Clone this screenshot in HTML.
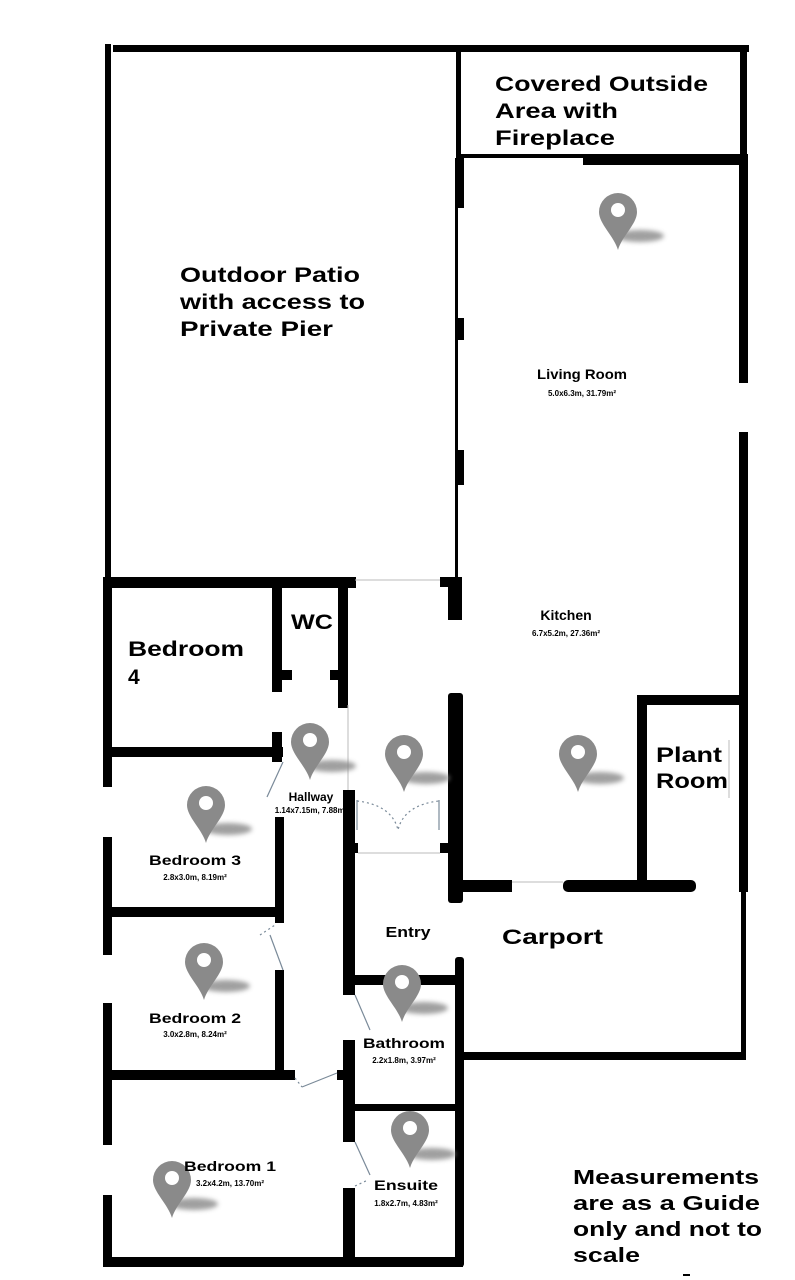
<!DOCTYPE html>
<html><head><meta charset="utf-8"><style>
html,body{margin:0;padding:0;background:#fff;}
svg{display:block;}
text{font-family:"Liberation Sans",Arial,sans-serif;font-weight:bold;fill:#000;}
</style></head><body>
<svg width="795" height="1280" viewBox="0 0 795 1280" xmlns="http://www.w3.org/2000/svg">
<defs>
<filter id="bl" x="-50%" y="-100%" width="200%" height="300%"><feGaussianBlur stdDeviation="2.5"/></filter>
<g id="pin">
<ellipse cx="22" cy="-14" rx="24" ry="6" fill="#888" opacity="0.8" filter="url(#bl)"/>
<path d="M0,0 C-4,-14 -19,-26 -19,-38 A19,19 0 1 1 19,-38 C19,-26 4,-14 0,0 Z" fill="#8a8a8a"/>
<circle cx="0" cy="-40" r="7" fill="#fff"/>
</g>
</defs>
<g fill="#000">
<rect x="113" y="45" width="636" height="7"/>
<rect x="105" y="44" width="6" height="540"/>
<rect x="456" y="47" width="5" height="112"/>
<rect x="740" y="47" width="7" height="112"/>
<rect x="461" y="154" width="287" height="4"/>
<rect x="583" y="154" width="165" height="11"/>
<rect x="455" y="158" width="9" height="50"/>
<rect x="455" y="208" width="3" height="112"/>
<rect x="455" y="318" width="9" height="22"/>
<rect x="455" y="340" width="3" height="110"/>
<rect x="455" y="450" width="9" height="35"/>
<rect x="455" y="485" width="3" height="95"/>
<rect x="440" y="577" width="22" height="10"/>
<rect x="448" y="580" width="14" height="40"/>
<rect x="739" y="158" width="9" height="225"/>
<rect x="739" y="432" width="9" height="460"/>
<rect x="741" y="888" width="5" height="172"/>
<rect x="448" y="693" width="15" height="210" rx="3"/>
<rect x="463" y="880" width="49" height="12"/>
<rect x="563" y="880" width="133" height="12" rx="5"/>
<rect x="637" y="695" width="10" height="197"/>
<rect x="637" y="695" width="111" height="10"/>
<rect x="440" y="843" width="10" height="10"/>
<rect x="455" y="957" width="9" height="310" rx="3"/>
<rect x="463" y="1052" width="283" height="8"/>
<rect x="103" y="577" width="253" height="11"/>
<rect x="103" y="577" width="9" height="210"/>
<rect x="103" y="837" width="9" height="118"/>
<rect x="103" y="1003" width="9" height="142"/>
<rect x="103" y="1195" width="9" height="72"/>
<rect x="103" y="747" width="180" height="10"/>
<rect x="272" y="588" width="10" height="104"/>
<rect x="282" y="670" width="10" height="10"/>
<rect x="272" y="732" width="10" height="30"/>
<rect x="338" y="588" width="10" height="120"/>
<rect x="330" y="670" width="8" height="10"/>
<rect x="275" y="817" width="9" height="100"/>
<rect x="103" y="907" width="180" height="10"/>
<rect x="275" y="907" width="9" height="16"/>
<rect x="275" y="970" width="9" height="110"/>
<rect x="103" y="1070" width="192" height="10"/>
<rect x="343" y="790" width="12" height="205"/>
<rect x="355" y="843" width="3" height="10"/>
<rect x="343" y="1040" width="12" height="102"/>
<rect x="337" y="1070" width="8" height="10"/>
<rect x="343" y="1188" width="12" height="79"/>
<rect x="353" y="975" width="110" height="10"/>
<rect x="353" y="1104" width="110" height="7"/>
<rect x="103" y="1257" width="360" height="10"/>
<rect x="683" y="1274" width="7" height="2"/>
</g>
<g stroke="#bbb" stroke-width="1" fill="none">
<line x1="348" y1="705" x2="348" y2="790"/>
<line x1="358" y1="853" x2="440" y2="853"/>
<line x1="355" y1="580" x2="440" y2="580"/>
<line x1="512" y1="882" x2="563" y2="882"/>
<line x1="729" y1="740" x2="729" y2="798"/>
</g>
<g stroke="#7a8a99" stroke-width="1.2" fill="none">
<line x1="357" y1="800" x2="357" y2="830"/>
<line x1="439" y1="800" x2="439" y2="830"/>
<path d="M357,801 Q392,805 398,830 Q404,805 439,801" stroke-dasharray="2,3"/>
<line x1="283" y1="762" x2="267" y2="797"/>
<line x1="270" y1="935" x2="283" y2="970"/>
<line x1="260" y1="935" x2="275" y2="925" stroke-dasharray="2,3"/>
<line x1="295" y1="1078" x2="302" y2="1087" stroke-dasharray="2,3"/>
<line x1="302" y1="1087" x2="337" y2="1073"/>
<line x1="355" y1="995" x2="370" y2="1030"/>
<line x1="355" y1="1142" x2="370" y2="1175"/>
<line x1="355" y1="1186" x2="368" y2="1180" stroke-dasharray="2,3"/>
</g>
<use href="#pin" x="618" y="250"/>
<use href="#pin" x="578" y="792"/>
<use href="#pin" x="404" y="792"/>
<use href="#pin" x="310" y="780"/>
<use href="#pin" x="206" y="843"/>
<use href="#pin" x="204" y="1000"/>
<use href="#pin" x="402" y="1022"/>
<use href="#pin" x="410" y="1168"/>
<use href="#pin" x="172" y="1218"/>
<g font-size="21" lengthAdjust="spacingAndGlyphs">
<text x="495" y="91" textLength="213" lengthAdjust="spacingAndGlyphs">Covered Outside</text>
<text x="495" y="118" textLength="123" lengthAdjust="spacingAndGlyphs">Area with</text>
<text x="495" y="145" textLength="120" lengthAdjust="spacingAndGlyphs">Fireplace</text>
<text x="180" y="282" textLength="180" lengthAdjust="spacingAndGlyphs">Outdoor Patio</text>
<text x="180" y="309" textLength="185" lengthAdjust="spacingAndGlyphs">with access to</text>
<text x="180" y="336" textLength="153" lengthAdjust="spacingAndGlyphs">Private Pier</text>
<text x="128" y="656" textLength="116" lengthAdjust="spacingAndGlyphs">Bedroom</text>
<text x="128" y="684">4</text>
<text x="291" y="629" textLength="42" lengthAdjust="spacingAndGlyphs">WC</text>
<text x="656" y="762" textLength="66" lengthAdjust="spacingAndGlyphs">Plant</text>
<text x="656" y="788" textLength="72" lengthAdjust="spacingAndGlyphs">Room</text>
<text x="502" y="944" textLength="101" lengthAdjust="spacingAndGlyphs">Carport</text>
</g>
<g font-size="20">
<text x="573" y="1184" textLength="186" lengthAdjust="spacingAndGlyphs">Measurements</text>
<text x="573" y="1210" textLength="187" lengthAdjust="spacingAndGlyphs">are as a Guide</text>
<text x="573" y="1236" textLength="189" lengthAdjust="spacingAndGlyphs">only and not to</text>
<text x="573" y="1262" textLength="67" lengthAdjust="spacingAndGlyphs">scale</text>
</g>
<g text-anchor="middle">
<text x="582" y="379" font-size="14" textLength="90" lengthAdjust="spacingAndGlyphs">Living Room</text>
<text x="582" y="396" font-size="8">5.0x6.3m, 31.79m²</text>
<text x="566" y="620" font-size="14">Kitchen</text>
<text x="566" y="636" font-size="8">6.7x5.2m, 27.36m²</text>
<text x="311" y="801" font-size="12">Hallway</text>
<text x="311" y="813" font-size="8">1.14x7.15m, 7.88m²</text>
<text x="195" y="865" font-size="14" textLength="92" lengthAdjust="spacingAndGlyphs">Bedroom 3</text>
<text x="195" y="880" font-size="8">2.8x3.0m, 8.19m²</text>
<text x="408" y="937" font-size="15" textLength="45" lengthAdjust="spacingAndGlyphs">Entry</text>
<text x="195" y="1023" font-size="14" textLength="92" lengthAdjust="spacingAndGlyphs">Bedroom 2</text>
<text x="195" y="1037" font-size="8">3.0x2.8m, 8.24m²</text>
<text x="404" y="1048" font-size="14" textLength="82" lengthAdjust="spacingAndGlyphs">Bathroom</text>
<text x="404" y="1063" font-size="8">2.2x1.8m, 3.97m²</text>
<text x="230" y="1171" font-size="14" textLength="92" lengthAdjust="spacingAndGlyphs">Bedroom 1</text>
<text x="230" y="1186" font-size="8">3.2x4.2m, 13.70m²</text>
<text x="406" y="1190" font-size="14" textLength="64" lengthAdjust="spacingAndGlyphs">Ensuite</text>
<text x="406" y="1206" font-size="8">1.8x2.7m, 4.83m²</text>
</g>
</svg>
</body></html>
